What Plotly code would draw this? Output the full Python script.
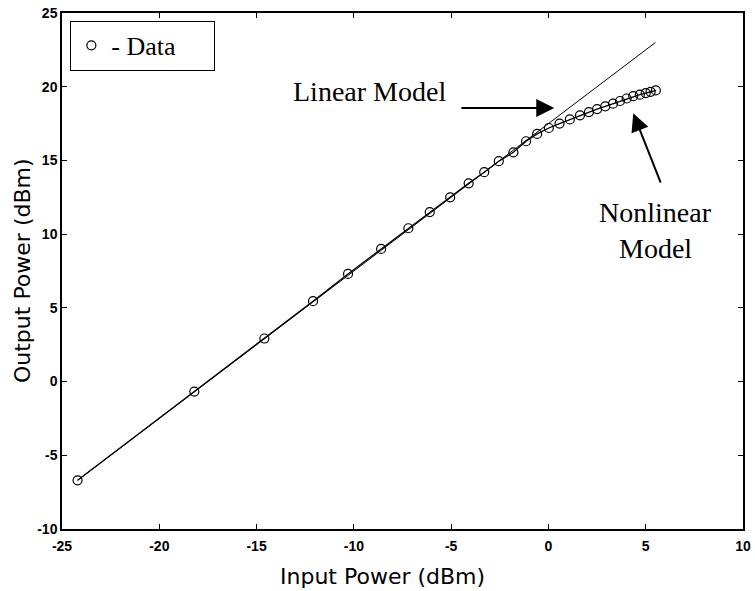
import numpy as np
import plotly.graph_objects as go

# Data
input_dbm = [-24.2, -18.2, -14.6, -12.1, -10.3, -8.6, -7.2, -6.1, -5.05, -4.1,
             -3.3, -2.55, -1.8, -1.15, -0.58, 0.02, 0.57, 1.1, 1.62, 2.08,
             2.5, 2.92, 3.32, 3.68, 4.02, 4.36, 4.7, 5.0, 5.25, 5.52]
output_dbm = [-6.7, -0.68, 2.92, 5.45, 7.3, 9.0, 10.4, 11.5, 12.5, 13.45,
              14.2, 14.95, 15.55, 16.3, 16.8, 17.2, 17.5, 17.78, 18.06, 18.28,
              18.48, 18.67, 18.85, 19.03, 19.2, 19.36, 19.46, 19.57, 19.65, 19.75]

# Linear model: Pout = Pin + gain
linear_gain = 17.5
linear_x = [-24.2, 5.5]
linear_y = [v + linear_gain for v in linear_x]

x_ticks = [-25, -20, -15, -10, -5, 0, 5, 10]
y_ticks = [-10, -5, 0, 5, 10, 15, 20, 25]

fig = go.Figure()

# Nonlinear model (line through data)
fig.add_trace(go.Scatter(x=input_dbm, y=output_dbm, mode="lines",
                         line=dict(color="black", width=1.3),
                         showlegend=False, hoverinfo="skip"))
# Linear model
fig.add_trace(go.Scatter(x=linear_x, y=linear_y, mode="lines",
                         line=dict(color="black", width=1),
                         showlegend=False, hoverinfo="skip"))
# Data markers
fig.add_trace(go.Scatter(x=input_dbm, y=output_dbm, mode="markers",
                         name="- Data\u00a0\u00a0\u00a0\u00a0\u00a0",
                         marker=dict(symbol="circle-open", size=9,
                                     color="black", line=dict(width=1.2))))

serif = "Liberation Serif"
ann_font = dict(family=serif, size=28, color="black")
title_font = dict(family="DejaVu Sans", size=22, color="black")

annotations = [
    dict(x=-9.2, y=19.7, text="Linear Model", showarrow=False,
         xref="x", yref="y", font=ann_font),
    dict(x=5.52, y=11.5, text="Nonlinear", showarrow=False,
         xref="x", yref="y", font=ann_font),
    dict(x=5.52, y=9.0, text="Model", showarrow=False,
         xref="x", yref="y", font=ann_font),
    dict(x=0.3, y=18.55, ax=-4.55, ay=18.55, axref="x", ayref="y",
         xref="x", yref="y", text="", showarrow=True, arrowhead=2,
         arrowsize=1.8, arrowwidth=2, arrowcolor="black"),
    dict(x=4.36, y=18.2, ax=5.8, ay=13.4, axref="x", ayref="y",
         xref="x", yref="y", text="", showarrow=True, arrowhead=2,
         arrowsize=1.8, arrowwidth=2, arrowcolor="black"),
    # axis titles
    dict(x=0.471, y=-0.093, xref="paper", yref="paper", text="Input Power (dBm)",
         showarrow=False, xanchor="center", yanchor="middle", font=title_font),
    dict(x=-0.0587, y=0.5, xref="paper", yref="paper", text="Output Power (dBm)",
         showarrow=False, xanchor="center", yanchor="middle", textangle=-90,
         font=title_font),
]

tick_font = dict(family="Liberation Sans", size=14, color="black", weight="bold")

fig.update_layout(
    width=755, height=591,
    margin=dict(l=62, r=12, t=13, b=62, autoexpand=False),
    paper_bgcolor="white", plot_bgcolor="white",
    showlegend=True,
    legend=dict(x=0.012, y=0.985, xanchor="left", yanchor="top",
                bordercolor="black", borderwidth=1.2, bgcolor="white",
                font=dict(family=serif, size=26, color="black")),
    annotations=annotations,
)
common = dict(ticks="inside", ticklen=5, tickcolor="black", tickwidth=1,
              showline=True, linecolor="black", linewidth=1.5, mirror="ticks",
              showgrid=False, zeroline=False, tickfont=tick_font, automargin=False)
fig.update_xaxes(range=[-25, 10], tickvals=x_ticks, ticktext=[str(t) for t in x_ticks],
                 ticklabelstandoff=3, **common)
fig.update_yaxes(range=[-10, 25], tickvals=y_ticks, ticktext=[str(t) for t in y_ticks],
                 **common)

fig.write_html("out.html")
